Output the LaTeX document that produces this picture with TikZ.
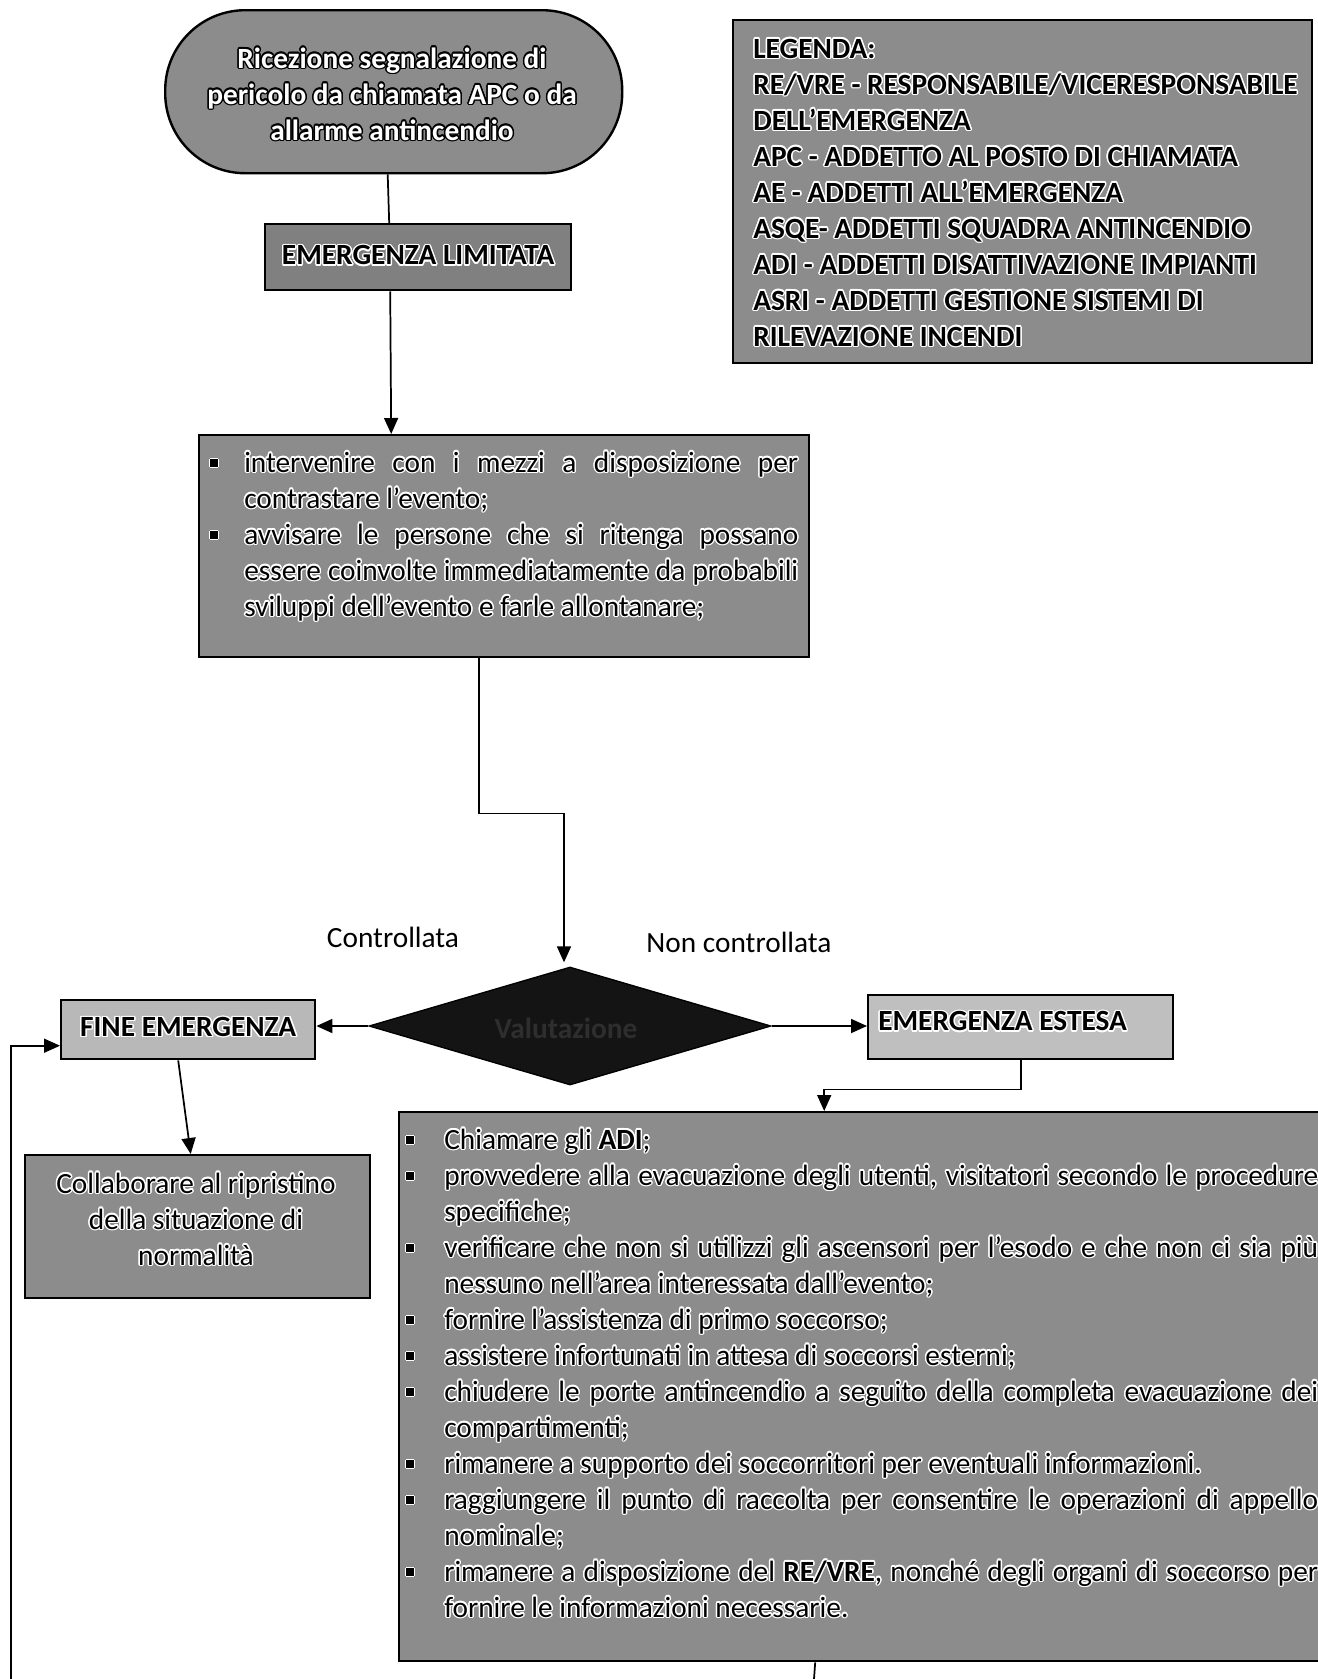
\documentclass[tikz,border=0pt]{standalone}
\usepackage{fontspec}
\setmainfont{Carlito}
\usepackage[copies]{contour}
\contourlength{1.1pt}
\contournumber{12}
\usetikzlibrary{arrows.meta,calc,shapes.geometric}
\newdimen\pxu \pxu=0.75pt
\newcommand\hl[1]{\contour{white}{#1}}
\newcommand\wl[1]{{\color{white}\contour{black}{#1}}}
\newcommand\bsq[1]{\makebox[#1\pxu][l]{\rule[4pt]{5.5pt}{5.5pt}}}
\newcommand\ind[1]{\hspace*{#1\pxu}}
\newcommand\jl[2]{\makebox[#1\pxu][s]{#2}}
\begin{document}
\begin{tikzpicture}[x=0.75pt,y=-0.75pt,
  box/.style={draw=black, line width=1.8pt, inner sep=0pt, anchor=north west},
  txt/.style={inner sep=0pt, align=left, font=\fontsize{22pt}{27pt}\selectfont},
  ctxt/.style={inner sep=0pt, align=center, font=\fontsize{22pt}{27pt}\selectfont},
  conn/.style={line width=1.3pt},
  arr/.style={line width=1.3pt, -{Triangle[length=12pt,width=10.5pt]}}]
\path[use as bounding box, fill=white] (0,0) rectangle (1318,1679);

% boxes
\node[box, rounded corners=60pt, fill=black!45, minimum width=457\pxu, minimum height=163\pxu] (term) at (164,9) {};
\node[box, fill=black!45, minimum width=579\pxu, minimum height=343\pxu] (leg) at (732,19) {};
\node[box, fill=black!50, minimum width=306\pxu, minimum height=66\pxu] (EL) at (264,223) {};
\node[box, fill=black!45, minimum width=610\pxu, minimum height=222\pxu] (box1) at (198,434) {};
\node[diamond, draw=black, fill=black!92, line width=1pt, inner sep=0pt, minimum width=402\pxu, minimum height=118\pxu] (dec) at (570,1026) {};
\node[box, fill=black!28, minimum width=254\pxu, minimum height=59\pxu] (FINE) at (60,999) {};
\node[box, fill=black!25, minimum width=305\pxu, minimum height=64\pxu] (EE) at (867,994) {};
\node[box, fill=black!45, minimum width=345\pxu, minimum height=143\pxu] (coll) at (24,1154) {};
\node[box, fill=black!45, minimum width=950\pxu, minimum height=549\pxu] (big) at (398,1111) {};

% texts (anchor = baseline of the last line)
\node[ctxt, font=\fontsize{22pt}{27pt}\selectfont\bfseries, anchor=base] (termt) at (392,140)
  {\wl{Ricezione segnalazione di}\\ \wl{pericolo da chiamata APC o da}\\ \wl{allarme antincendio}};
\node[txt, font=\fontsize{22pt}{27pt}\selectfont\bfseries, anchor=base west] (legt) at (753,346)
  {\hl{LEGENDA:}\\
   \hl{RE/VRE - RESPONSABILE/VICERESPONSABILE}\\
   \hl{DELL’EMERGENZA}\\
   \hl{APC - ADDETTO AL POSTO DI CHIAMATA}\\
   \hl{AE - ADDETTI ALL’EMERGENZA}\\
   \hl{ASQE- ADDETTI SQUADRA ANTINCENDIO}\\
   \hl{ADI - ADDETTI DISATTIVAZIONE IMPIANTI}\\
   \hl{ASRI - ADDETTI GESTIONE SISTEMI DI}\\
   \hl{RILEVAZIONE INCENDI}};
\node[ctxt, font=\fontsize{22pt}{27pt}\selectfont\bfseries] (ELt) at ($(EL.center)+(0,-1)$) {\hl{EMERGENZA LIMITATA}};
\node[txt, anchor=base west] (box1t) at (210,616)
  {\hl{\bsq{34}\jl{554}{intervenire con i mezzi a disposizione per}}\\
   \hl{\ind{34}contrastare l’evento;}\\
   \hl{\bsq{34}\jl{554}{avvisare le persone che si ritenga possano}}\\
   \hl{\ind{34}\jl{554}{essere coinvolte immediatamente da probabili}}\\
   \hl{\ind{34}sviluppi dell’evento e farle allontanare;}};
\node[ctxt, font=\fontsize{22pt}{27pt}\selectfont] (lc) at (393,937) {Controllata};
\node[ctxt, font=\fontsize{22pt}{27pt}\selectfont] (lnc) at (739,942) {Non controllata};
\node[ctxt, font=\fontsize{22pt}{27pt}\selectfont\bfseries, text=black!82] (dect) at (566,1028) {Valutazione};
\node[ctxt, font=\fontsize{22pt}{27pt}\selectfont\bfseries] (FINEt) at ($(FINE.center)+(0,-2)$) {\hl{FINE EMERGENZA}};
\node[txt, font=\fontsize{22pt}{27pt}\selectfont\bfseries, anchor=west] (EEt) at (878,1022) {\hl{EMERGENZA ESTESA}};
\node[ctxt, anchor=base] (collt) at (196,1265)
  {\hl{Collaborare al ripristino}\\ \hl{della situazione di}\\ \hl{normalità}};
\node[txt, anchor=base west] (bigt) at (406,1617)
  {\hl{\bsq{38}Chiamare gli \textbf{ADI};}\\
   \hl{\bsq{38}\jl{874}{provvedere alla evacuazione degli utenti, visitatori secondo le procedure}}\\
   \hl{\ind{38}specifiche;}\\
   \hl{\bsq{38}\jl{874}{verificare che non si utilizzi gli ascensori per l’esodo e che non ci sia più}}\\
   \hl{\ind{38}nessuno nell’area interessata dall’evento;}\\
   \hl{\bsq{38}fornire l’assistenza di primo soccorso;}\\
   \hl{\bsq{38}assistere infortunati in attesa di soccorsi esterni;}\\
   \hl{\bsq{38}\jl{874}{chiudere le porte antincendio a seguito della completa evacuazione dei}}\\
   \hl{\ind{38}compartimenti;}\\
   \hl{\bsq{38}rimanere a supporto dei soccorritori per eventuali informazioni.}\\
   \hl{\bsq{38}\jl{874}{raggiungere il punto di raccolta per consentire le operazioni di appello}}\\
   \hl{\ind{38}nominale;}\\
   \hl{\bsq{38}\jl{874}{rimanere a disposizione del \textbf{RE/VRE}, nonché degli organi di soccorso per}}\\
   \hl{\ind{38}fornire le informazioni necessarie.}};

% connectors
\coordinate (outb) at (814,1679);
\coordinate (outl) at (11,1679);
\draw[conn] ($(term.south)+(-6,0)$) -- ($(EL.north)+(-29,0)$);
\draw[arr] ($(EL.south)+(-28,0)$) -- ($(box1.north)+(-113,0)$);
\draw[arr] ($(box1.south)+(-25,0)$) -- ++(0,155) -| ($(dec.north)+(-6,-4)$);
\draw[arr] (dec.west) -- (dec.west -| FINE.east);
\draw[arr] (dec.east) -- (dec.east -| EE.west);
\draw[arr] (EE.south) -- ++(0,29) -| ($(big.north)+(-50,0)$);
\draw[arr] ($(FINE.south)+(-10,0)$) -- ($(coll.north)+(-7,0)$);
\draw[conn] ($(big.south)+(-59,0)$) -- (outb);
\draw[arr] (outl) |- ($(FINE.west)+(0,16)$);
\end{tikzpicture}
\end{document}
